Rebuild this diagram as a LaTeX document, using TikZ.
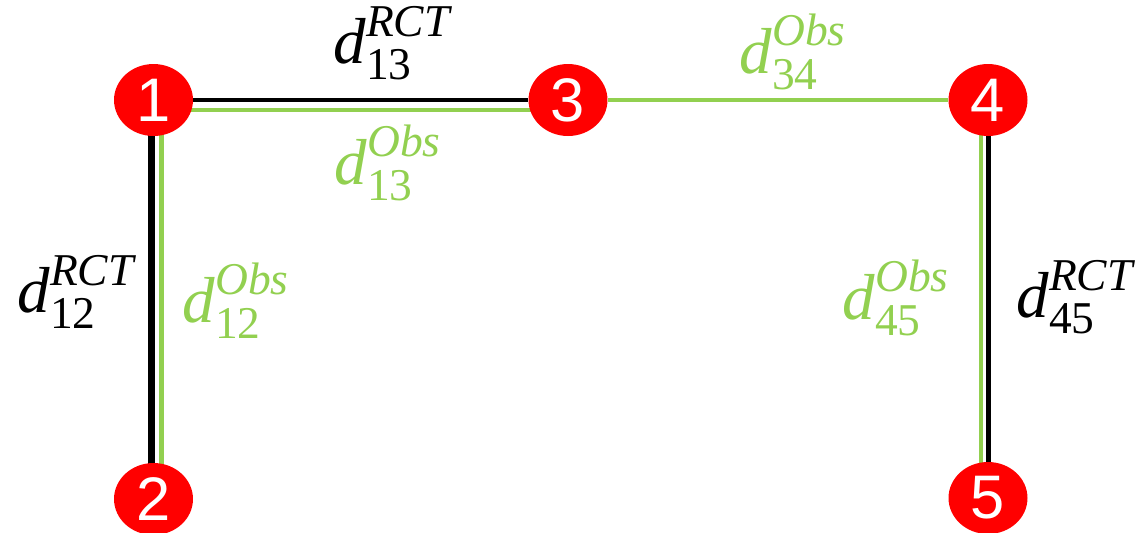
\RequirePackage{fix-cm}
\documentclass[tikz,border=0pt]{standalone}
\usepackage{amsmath}
\usepackage{fontspec}
\setmainfont{Liberation Serif}
\newfontfamily\numfont{Liberation Sans}
\usetikzlibrary{shapes.geometric,calc,backgrounds}
\definecolor{obsgreen}{RGB}{146,208,80}
\definecolor{sitered}{RGB}{255,0,0}
\newcommand{\dist}[2]{$\textit{d}^{\textit{#1}}_{\textup{#2}}$}

\begin{document}
\begin{tikzpicture}[x=0.02cm, y=-0.02cm,
    site/.style={ellipse, fill=sitered, text=white, minimum width=1.58cm, minimum height=1.44cm, inner sep=0pt, font=\numfont\fontsize{35}{35}\selectfont},
    rct/.style={draw=black, line width=2.5pt},
    obs/.style={draw=obsgreen, line width=2.5pt},
    lab/.style={font=\fontsize{37}{40}\selectfont, inner sep=0pt}]
    \useasboundingbox (0, 0) rectangle (1136, 532);
    \node[site] (n1) at (153.5, 100) {1};
    \node[site] (n3) at (568, 100) {3};
    \node[site] (n4) at (988, 100) {4};
    \node[site] (n2) at (153.5, 499) {2};
    \node[site] (n5) at (988, 498) {5};
    \begin{scope}[on background layer]
        \draw[rct] (n1) -- (n3);
        \draw[obs] ($(n1)+(0, 10)$) -- ($(n3)+(0, 10)$);
        \draw[obs] (n3) -- (n4);
        \draw[rct, line width=4.5pt] ($(n1)+(-2, 0)$) -- ($(n2)+(-2, 0)$);
        \draw[obs] ($(n1)+(8, 0)$) -- ($(n2)+(8, 0)$);
        \draw[obs] ($(n4)+(-7, 0)$) -- ($(n5)+(-7, 0)$);
        \draw[rct, line width=2.8pt] ($(n4)+(0.5, 0)$) -- ($(n5)+(0.5, 0)$);
    \end{scope}
    \node[lab] (r13) at (392, 43) {\dist{RCT}{13}};
    \node[lab, text=obsgreen] (o13) at (388, 163) {\dist{Obs}{13}};
    \node[lab, text=obsgreen] (o34) at (793, 52) {\dist{Obs}{34}};
    \node[lab] (r12) at (76, 292) {\dist{RCT}{12}};
    \node[lab, text=obsgreen] (o12) at (236, 301) {\dist{Obs}{12}};
    \node[lab, text=obsgreen] (o45) at (896, 298) {\dist{Obs}{45}};
    \node[lab] (r45) at (1075, 297) {\dist{RCT}{45}};
\end{tikzpicture}
\end{document}
